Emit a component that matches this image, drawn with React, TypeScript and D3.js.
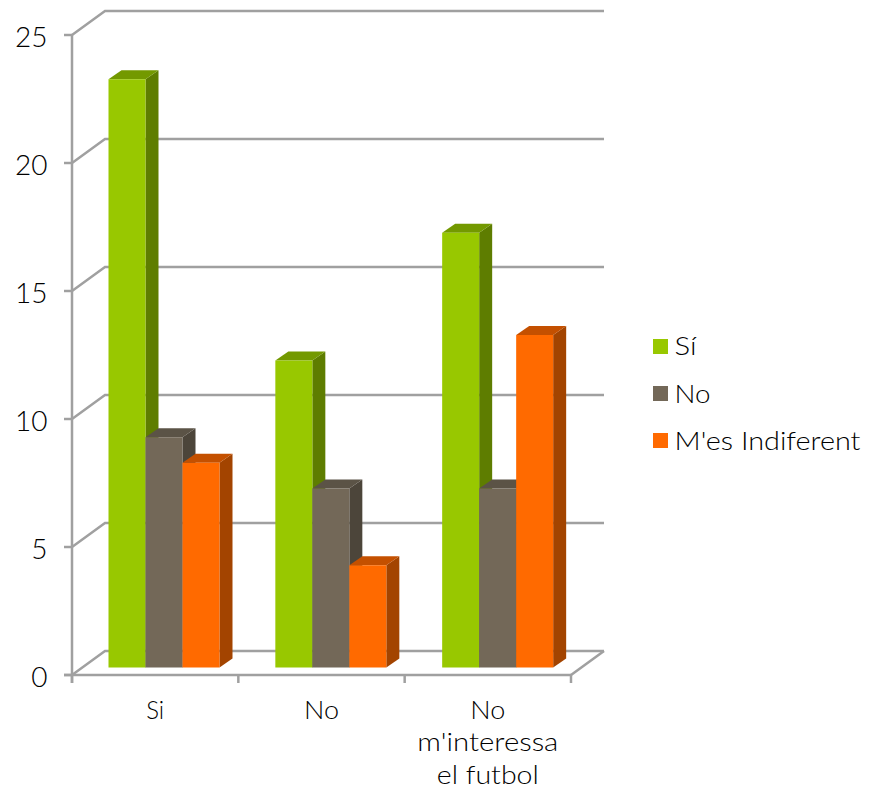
import React from "react";
import * as d3 from "d3";

const categories: string[][] = [["Si"], ["No"], ["No", "m'interessa", "el futbol"]];
const categoryWidths: number[][] = [[18], [35], [35, 141, 102]];
const seriesNames = ["Sí", "No", "M'es Indiferent"];
const valuesSi = [23, 12, 17];
const valuesNo = [9, 7, 7];
const valuesIndiferent = [8, 4, 13];
const seriesValues = [valuesSi, valuesNo, valuesIndiferent];
const yTicks = [0, 5, 10, 15, 20, 25];
const frontColors = ["#98C800", "#736858", "#FF6A00"];
const sideColors = ["#5E7D00", "#4C453A", "#A34400"];
const topColors = ["#739900", "#5B5346", "#C45000"];
const legendWidths = [22, 36, 186];

const FONT = "Lato, 'Open Sans', sans-serif";
const GRID = "#A0A0A0";

export default function App() {
  const axisY = d3.scaleLinear().domain([0, 25]).range([675, 35]);
  const barY = d3.scaleLinear().domain([0, 25]).range([667.5, 28]);
  const axisX = d3.scaleLinear().domain([0, 3]).range([72, 571]);
  const groupX = d3.scaleLinear().domain([0, 3]).range([108.5, 609]);
  const barW = 37;
  const dx = 13;
  const dy = 9;
  const backX = 33;
  const backY = 24;
  const line = d3.line();
  return (
    <svg width={874} height={787} style={{ position: "absolute", left: 0, top: 0 }} fontFamily={FONT} fill="#000" fontWeight={300}>
      {yTicks.map((t) => {
        const y = axisY(t);
        return (
          <g key={t}>
            <path
              d={line([[72, y], [72 + backX, y - backY], [604, y - backY]]) ?? ""}
              fill="none"
              stroke={GRID}
              strokeWidth={2.5}
            />
            <line x1={64} x2={72} y1={y} y2={y} stroke={GRID} strokeWidth={2.5} />
            <text x={47.5} y={y + 11.5} textAnchor="end" fontSize={28}>{t}</text>
          </g>
        );
      })}
      <line x1={72} x2={72} y1={axisY(25)} y2={683} stroke={GRID} strokeWidth={2.5} />
      <line x1={64} x2={571} y1={675} y2={675} stroke={GRID} strokeWidth={2.5} />
      <path d={line([[571, 675], [604, 651]]) ?? ""} stroke={GRID} strokeWidth={2.5} fill="none" />
      {d3.range(4).map((i) => (
        <line key={i} x1={axisX(i)} x2={axisX(i)} y1={675} y2={683} stroke={GRID} strokeWidth={2.5} />
      ))}
      {categories.map((_, c) => (
        <g key={c}>
          {seriesValues.map((vals, s) => {
            const x0 = groupX(c) + s * barW;
            const x1 = x0 + barW;
            const yt = barY(vals[c]);
            const yb = barY(0);
            const front = line([[x0, yt], [x1, yt], [x1, yb], [x0, yb]]) + "Z";
            const top = line([[x0, yt], [x0 + dx, yt - dy], [x1 + dx, yt - dy], [x1, yt]]) + "Z";
            const side = line([[x1, yt], [x1 + dx, yt - dy], [x1 + dx, yb - dy], [x1, yb]]) + "Z";
            return (
              <g key={s}>
                <path d={side} fill={sideColors[s]} />
                <path d={top} fill={topColors[s]} />
                <path d={front} fill={frontColors[s]} />
              </g>
            );
          })}
        </g>
      ))}
      {categories.map((lines, c) =>
        lines.map((l, i) => (
          <text
            key={i}
            x={axisX(c + 0.5)}
            y={718.5 + i * 32.5}
            textAnchor="middle"
            fontSize={25}
            textLength={categoryWidths[c][i]}
            lengthAdjust="spacingAndGlyphs"
          >
            {l}
          </text>
        ))
      )}
      {seriesNames.map((n, s) => {
        const y = 339 + s * 47;
        return (
          <g key={n}>
            <rect x={653} y={y} width={15} height={15} fill={frontColors[s]} />
            <text x={674.5} y={355 + s * 47.5} fontSize={25} textLength={legendWidths[s]} lengthAdjust="spacingAndGlyphs">{n}</text>
          </g>
        );
      })}
    </svg>
  );
}
